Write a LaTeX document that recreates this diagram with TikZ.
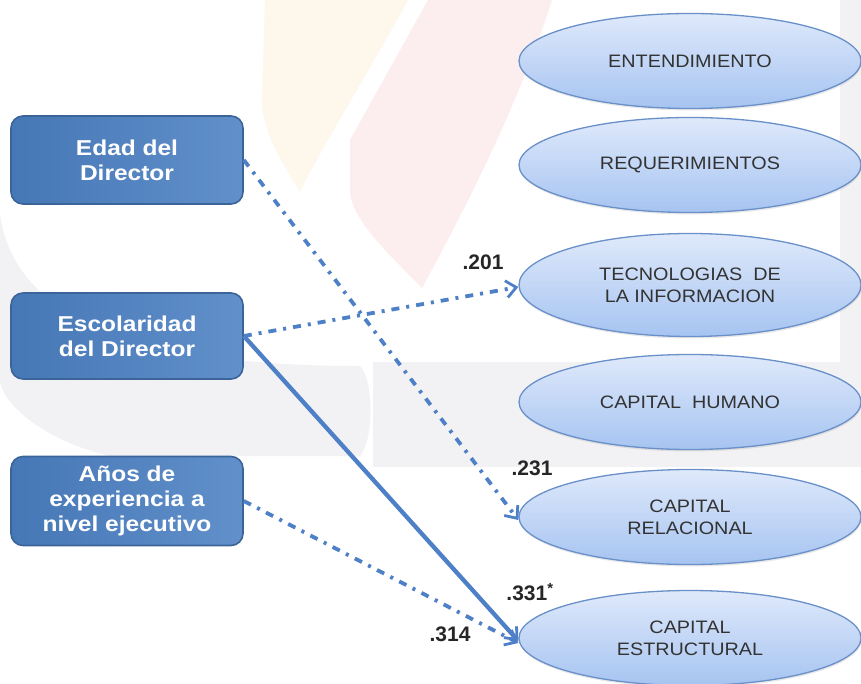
\documentclass[tikz,border=0pt]{standalone}
\usepackage{fontspec}
\setmainfont{Liberation Sans}
\newfontfamily\boxfont[FakeStretch=1.14]{Liberation Sans}
\newfontfamily\ellfont[FakeStretch=1.1]{Liberation Sans}
\usetikzlibrary{shapes.geometric,arrows.meta,shadows}

\definecolor{boxleft}{HTML}{4677B6}
\definecolor{boxright}{HTML}{6190CA}
\definecolor{boxline}{HTML}{3B6499}
\definecolor{elltop}{HTML}{DFE9FB}
\definecolor{ellbottom}{HTML}{A6C4F1}
\definecolor{ellline}{HTML}{6A90C9}
\definecolor{pathblue}{HTML}{4D80C6}
\definecolor{labelgrey}{HTML}{262626}
\definecolor{elltext}{HTML}{333333}
\definecolor{wmgrey}{HTML}{F2F2F5}
\definecolor{wmpink}{HTML}{FCEEEF}
\definecolor{wmyellow}{HTML}{FEF7EC}

\tikzset{
  factor/.style={draw=boxline, line width=1.6pt, rounded corners=12pt,
    left color=boxleft, right color=boxright,
    minimum width=232pt, minimum height=88pt, inner sep=0pt,
    align=center, text=white,
    font=\boxfont\bfseries\fontsize{21.5}{25}\selectfont},
  dimension/.style={ellipse, draw=ellline, line width=1.3pt,
    top color=elltop, bottom color=ellbottom,
    drop shadow={opacity=0.18, shadow xshift=0.6pt, shadow yshift=-2pt},
    minimum width=342pt, minimum height=95pt, inner sep=0pt,
    align=center, text=elltext,
    font=\ellfont\fontsize{18}{22}\selectfont},
  coef/.style={text=labelgrey, font=\bfseries\fontsize{21}{24}\selectfont, inner sep=0pt},
  dashdot/.style={draw=pathblue, line width=3.8pt,
    dash pattern=on 8pt off 7pt on 3pt off 7pt},
  solidpath/.style={draw=pathblue, line width=4.3pt},
  tip/.style={-{Straight Barb[length=10pt,width=17pt,line width=2.8pt]}}
}

\begin{document}
\begin{tikzpicture}[x=1pt,y=-1pt]
\useasboundingbox (0,0) rectangle (861,684);
\clip (0,0) rectangle (861,684);
\fill[white] (0,0) rectangle (861,684);

% faint background emblem
\fill[wmgrey] (0,215) .. controls (15,320) and (140,366) .. (360,366)
  .. controls (374,380) and (374,440) .. (360,456)
  -- (110,456) .. controls (40,440) and (0,400) .. (0,380) -- cycle;
\fill[wmgrey] (373,362) rectangle (861,467);
\fill[wmgrey] (840,0) rectangle (861,362);
\fill[wmyellow] (265,0) -- (408,0) .. controls (370,70) and (320,150) .. (300,192)
  .. controls (280,160) and (262,130) .. (262,100) -- cycle;
\fill[wmpink] (428,0) -- (552,0) .. controls (520,100) and (470,200) .. (422,288)
  .. controls (395,260) and (350,220) .. (350,190) -- (350,140) -- cycle;

% exogenous factors
\node[factor] (edad) at (127,160) {Edad del\\Director};
\node[factor, minimum height=86pt] (escol) at (127,336) {Escolaridad\\del Director};
\node[factor, minimum height=89pt] (anios) at (127,501) {Años de\\experiencia a\\nivel ejecutivo};

% dimensions
\node[dimension] (ent) at (690,61) {ENTENDIMIENTO};
\node[dimension] (req) at (690,165) {REQUERIMIENTOS};
\node[dimension, minimum height=103pt] (tec) at (690,285) {TECNOLOGIAS\ \ DE\\LA INFORMACION};
\node[dimension] (hum) at (690,402) {CAPITAL\ \ HUMANO};
\node[dimension] (rel) at (690,517) {CAPITAL\\RELACIONAL};
\node[dimension] (est) at (690,638) {CAPITAL\\ESTRUCTURAL};

% paths
\draw[dashdot, tip] (edad.east) -- ([yshift=-3pt]rel.west);
\draw[dashdot, tip] (escol.east) -- ([yshift=-2pt]tec.west);
\draw[solidpath, tip] (escol.east) -- ([yshift=-3pt]est.west);
\draw[dashdot, tip] (anios.east) -- ([yshift=-5pt]est.west);

% coefficients
\node[coef] (c201) at (483,262) {.201};
\node[coef] (c231) at (532,468) {.231};
\node[coef] (c331) at (530,592) {.331\textsuperscript{*}};
\node[coef] (c314) at (450,634) {.314};
\end{tikzpicture}
\end{document}
